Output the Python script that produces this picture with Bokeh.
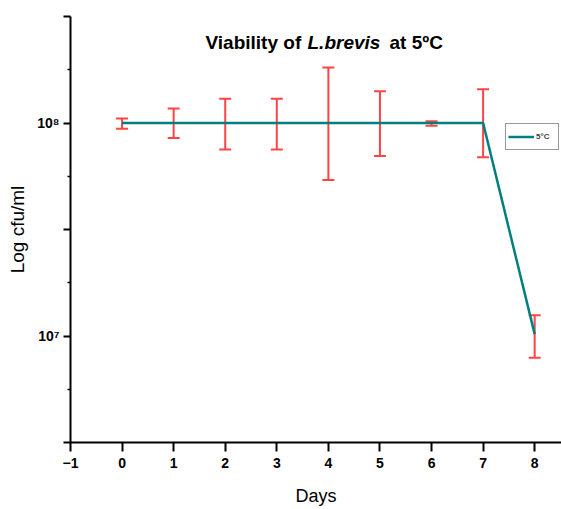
from bokeh.plotting import figure
from bokeh.models import (FixedTicker, Whisker, TeeHead, ColumnDataSource,
                          Legend, LegendItem, Label)
from bokeh.embed import file_html
from bokeh.resources import INLINE

# ---- data ----
days = [0, 1, 2, 3, 4, 5, 6, 7, 8]
viable_count = [1.0e8, 1.0e8, 1.0e8, 1.0e8, 1.0e8, 1.0e8, 1.0e8, 1.0e8, 1.02e7]
err_upper = [1.05e8, 1.17e8, 1.30e8, 1.30e8, 1.82e8, 1.41e8, 1.02e8, 1.44e8, 1.25e7]
err_lower = [9.4e7, 8.5e7, 7.5e7, 7.5e7, 5.4e7, 7.0e7, 9.7e7, 6.9e7, 7.9e6]
series_name = "5°C"

x_ticks = [-1, 0, 1, 2, 3, 4, 5, 6, 7, 8]
x_tick_labels = {-1: "\u22121"}
y_major_ticks = [10 ** 6.5, 1e7, 10 ** 7.5, 1e8, 10 ** 8.5]
y_minor_ticks = [10 ** 6.75, 10 ** 7.25, 10 ** 7.75, 10 ** 8.25]
y_tick_labels = {10 ** 6.5: "", 1e7: "10\u2077", 10 ** 7.5: "", 1e8: "10\u2078", 10 ** 8.5: ""}

title_parts = ["Viability of", "L.brevis", "at 5ºC"]

FONT = "Liberation Sans"
TEAL = "#007f7f"
RED = "#ff4444"

p = figure(width=561, height=509, y_axis_type="log",
           x_range=(-1, 8.52), y_range=(10 ** 6.5, 10 ** 8.5),
           output_backend="svg", toolbar_location=None,
           min_border_left=70, min_border_right=0,
           min_border_top=16, min_border_bottom=67)
p.outline_line_color = None
p.xgrid.visible = False
p.ygrid.visible = False
p.background_fill_color = "white"
p.border_fill_color = "white"

src = ColumnDataSource(dict(x=days, y=viable_count, upper=err_upper, lower=err_lower))

ln = p.line("x", "y", source=src, line_color=TEAL, line_width=2.5)

wh = Whisker(base="x", upper="upper", lower="lower", source=src,
             line_color=RED, line_width=2,
             upper_head=TeeHead(size=12, line_color=RED, line_width=2),
             lower_head=TeeHead(size=12, line_color=RED, line_width=2))
p.add_layout(wh)

legend = Legend(items=[LegendItem(label=series_name, renderers=[ln])],
                location=(435, 292), margin=0, padding=2,
                glyph_width=26, glyph_height=21, label_standoff=2,
                label_text_font=FONT, label_text_font_size="8px",
                label_text_font_style="bold",
                border_line_color="#333333", border_line_width=1,
                background_fill_alpha=1.0)
p.add_layout(legend)

# axes
for ax in (p.xaxis[0], p.yaxis[0]):
    ax.axis_line_width = 2
    ax.major_tick_line_width = 2
    ax.minor_tick_line_width = 1.5
    ax.major_tick_in = 0
    ax.minor_tick_in = 0
    ax.major_label_text_font = FONT
    ax.major_label_text_font_style = "bold"
    ax.major_label_text_font_size = "14px"
    ax.major_label_text_color = "black"
    ax.axis_label_text_font = FONT
    ax.axis_label_text_font_style = "normal"
    ax.axis_label_text_color = "black"

p.xaxis.ticker = FixedTicker(ticks=x_ticks)
p.xaxis.major_label_overrides = x_tick_labels
p.xaxis.major_tick_out = 9
p.xaxis.minor_tick_out = 0
p.xaxis.major_label_standoff = 6
p.xaxis.axis_label = "Days"
p.xaxis.axis_label_text_font_size = "18px"
p.xaxis.axis_label_standoff = 15

p.yaxis.ticker = FixedTicker(ticks=y_major_ticks, minor_ticks=y_minor_ticks)
p.yaxis.major_label_overrides = y_tick_labels
p.yaxis.major_tick_out = 7
p.yaxis.minor_tick_out = 3
p.yaxis.major_label_standoff = 4
p.yaxis.axis_label = "Log cfu/ml"
p.yaxis.axis_label_text_font_size = "19px"
p.yaxis.axis_label_standoff = 6

# title, with the species name in italics
title_x = [135, 237, 319]
title_styles = ["bold", "bold italic", "bold"]
for txt, tx, st in zip(title_parts, title_x, title_styles):
    p.add_layout(Label(x=tx, y=400, x_units="screen", y_units="screen",
                       text=txt, text_font=FONT, text_font_style=st,
                       text_font_size="19px", text_color="black",
                       text_baseline="alphabetic", text_align="left"))

open("out.html", "w").write(file_html(p, INLINE))
